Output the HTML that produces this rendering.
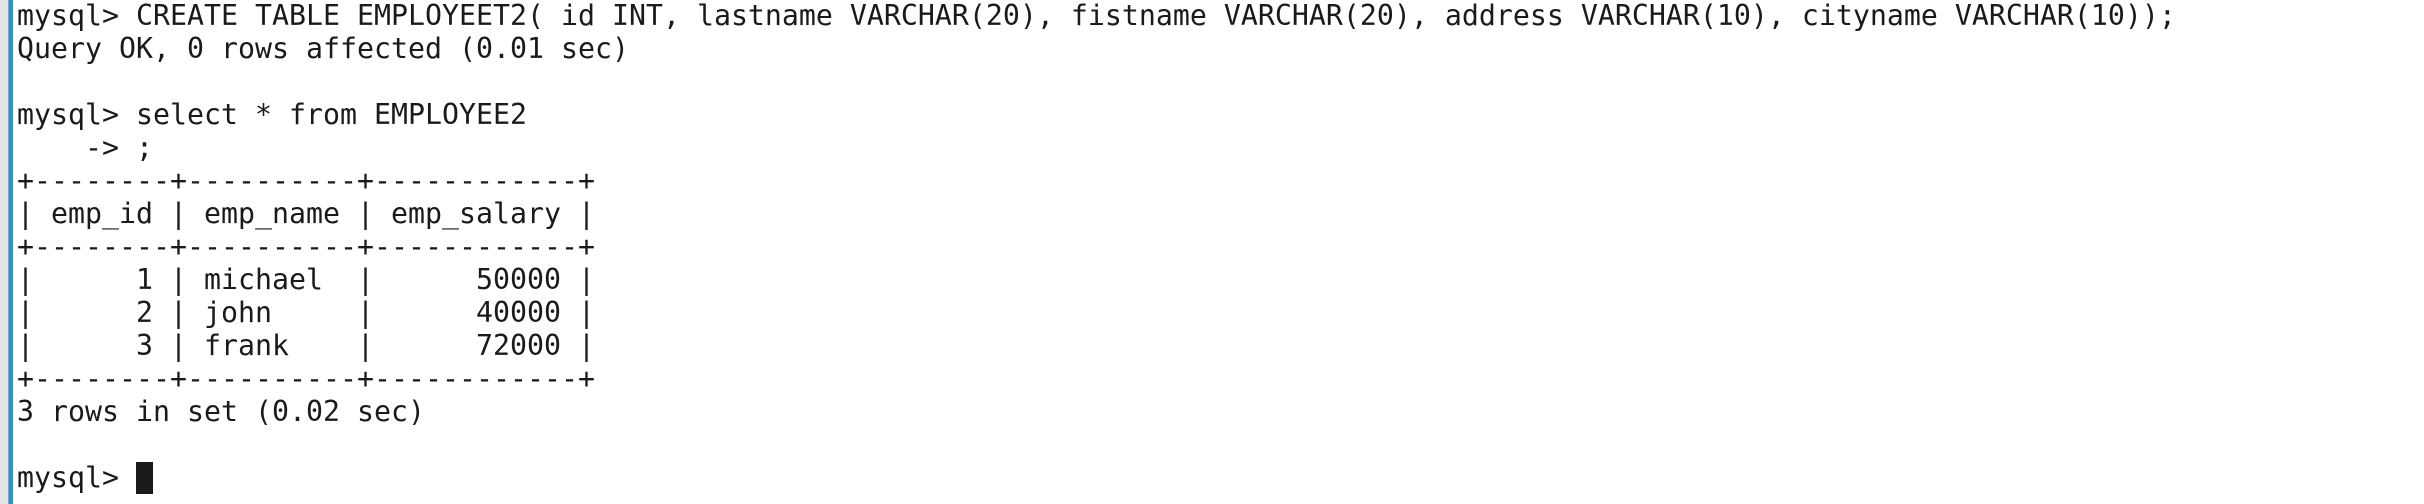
<!DOCTYPE html>
<html><head><meta charset="utf-8"><style>
html,body{margin:0;padding:0;background:#fff;width:2424px;height:504px;overflow:hidden;position:relative}
.g{position:absolute;left:0;top:0;width:8px;height:504px;background:#e4e4e4;border-right:1px solid #9a9a9a}
.b{position:absolute;left:9px;top:0;width:4px;height:504px;background:#1b98d5}
pre{position:absolute;left:17px;top:-1px;margin:0;font-family:"DejaVu Sans Mono","Liberation Mono",monospace;font-size:28.24px;line-height:33px;color:#1a1a1a;letter-spacing:0}
.c{display:inline-block;width:17px;height:32px;background:#1a1a1a;vertical-align:top;margin-top:1px}
</style></head><body>
<div class="g"></div><div class="b"></div>
<pre>mysql&gt; CREATE TABLE EMPLOYEET2( id INT, lastname VARCHAR(20), fistname VARCHAR(20), address VARCHAR(10), cityname VARCHAR(10));
Query OK, 0 rows affected (0.01 sec)

mysql&gt; select * from EMPLOYEE2
    -&gt; ;
+--------+----------+------------+
| emp_id | emp_name | emp_salary |
+--------+----------+------------+
|      1 | michael  |      50000 |
|      2 | john     |      40000 |
|      3 | frank    |      72000 |
+--------+----------+------------+
3 rows in set (0.02 sec)

mysql&gt; <span class="c"></span></pre>
</body></html>
